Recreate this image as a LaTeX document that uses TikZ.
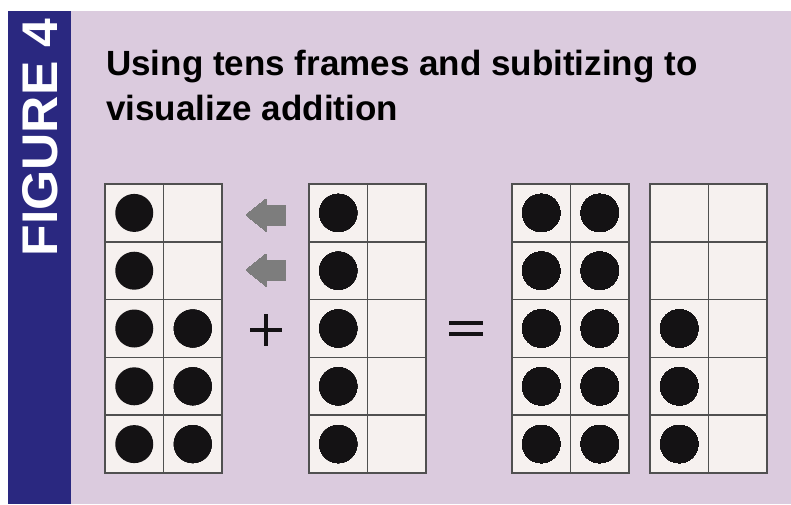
\documentclass[tikz,border=0pt]{standalone}
\usepackage{fontspec}
\setmainfont{Liberation Sans}
\definecolor{navy}{RGB}{42,40,128}
\definecolor{lilac}{RGB}{219,203,222}
\definecolor{cellfill}{RGB}{246,241,239}
\definecolor{gridline}{RGB}{80,80,80}
\definecolor{dotcol}{RGB}{20,18,20}
\definecolor{arrowgray}{RGB}{125,125,125}
\begin{document}
\begin{tikzpicture}[x=1pt,y=-1pt,
  framebox/.style={fill=cellfill,draw=gridline,line width=1.8pt},
  gridl/.style={draw=gridline,line width=1.6pt},
  counter/.style={fill=dotcol},
  grayarrow/.style={fill=arrowgray},
  titletext/.style={anchor=base west,inner sep=0pt,font=\fontsize{35}{42}\selectfont\bfseries}]
\useasboundingbox (0,0) rectangle (791,504);
\fill[white] (0,0) rectangle (791,504);
\fill[lilac] (71,11) rectangle (791,504);
\fill[navy] (8,11) rectangle (71,504);
\node[rotate=90,inner sep=0pt,text=white] (figlabel) at (40.5,137.5)
  {\resizebox{238pt}{35pt}{\bfseries FIGURE 4}};
\node[titletext] (title1) at (106,75) {Using tens frames and subitizing to};
\node[titletext] (title2) at (106,120) {visualize addition};
% ten frames: x0, rows of 57.8, columns of 58.5
\newcommand{\tenframe}[1]{%
  \draw[framebox] (#1,184) rectangle ++(117,289);
  \draw[gridl] (#1+58.5,184) -- ++(0,289);
  \foreach \r in {1,2,3,4} \draw[gridl] (#1,184+57.8*\r) -- ++(117,0);
}
\newcommand{\counterdot}[3]{% x0, col, row
  \fill[counter] (#1+29.25+58.5*#2, 184+28.9+57.8*#3) circle (19);
}
\tenframe{105}
\tenframe{309}
\tenframe{512}
\tenframe{650}
% frame 1
\foreach \r in {0,1,2,3,4} \counterdot{105}{0}{\r}
\foreach \r in {2,3,4} \counterdot{105}{1}{\r}
% frame 2
\foreach \r in {0,1,2,3,4} \counterdot{309}{0}{\r}
% frame 3
\foreach \r in {0,1,2,3,4} {\counterdot{512}{0}{\r}\counterdot{512}{1}{\r}}
% frame 4
\foreach \r in {2,3,4} \counterdot{650}{0}{\r}
% gray arrows
\foreach \cy in {215,270}
  \fill[grayarrow] (246,\cy) -- (266,\cy-16) -- (266,\cy-10) -- (285,\cy-10)
    -- (285,\cy+10) -- (266,\cy+10) -- (266,\cy+16) -- cycle;
% plus
\draw[line width=3.5pt,draw=dotcol] (250,330) -- (282,330) (266,314) -- (266,346);
% equals
\fill[dotcol] (449,320.5) rectangle (483,324.5);
\fill[dotcol] (449,332) rectangle (483,336);
\end{tikzpicture}
\end{document}
